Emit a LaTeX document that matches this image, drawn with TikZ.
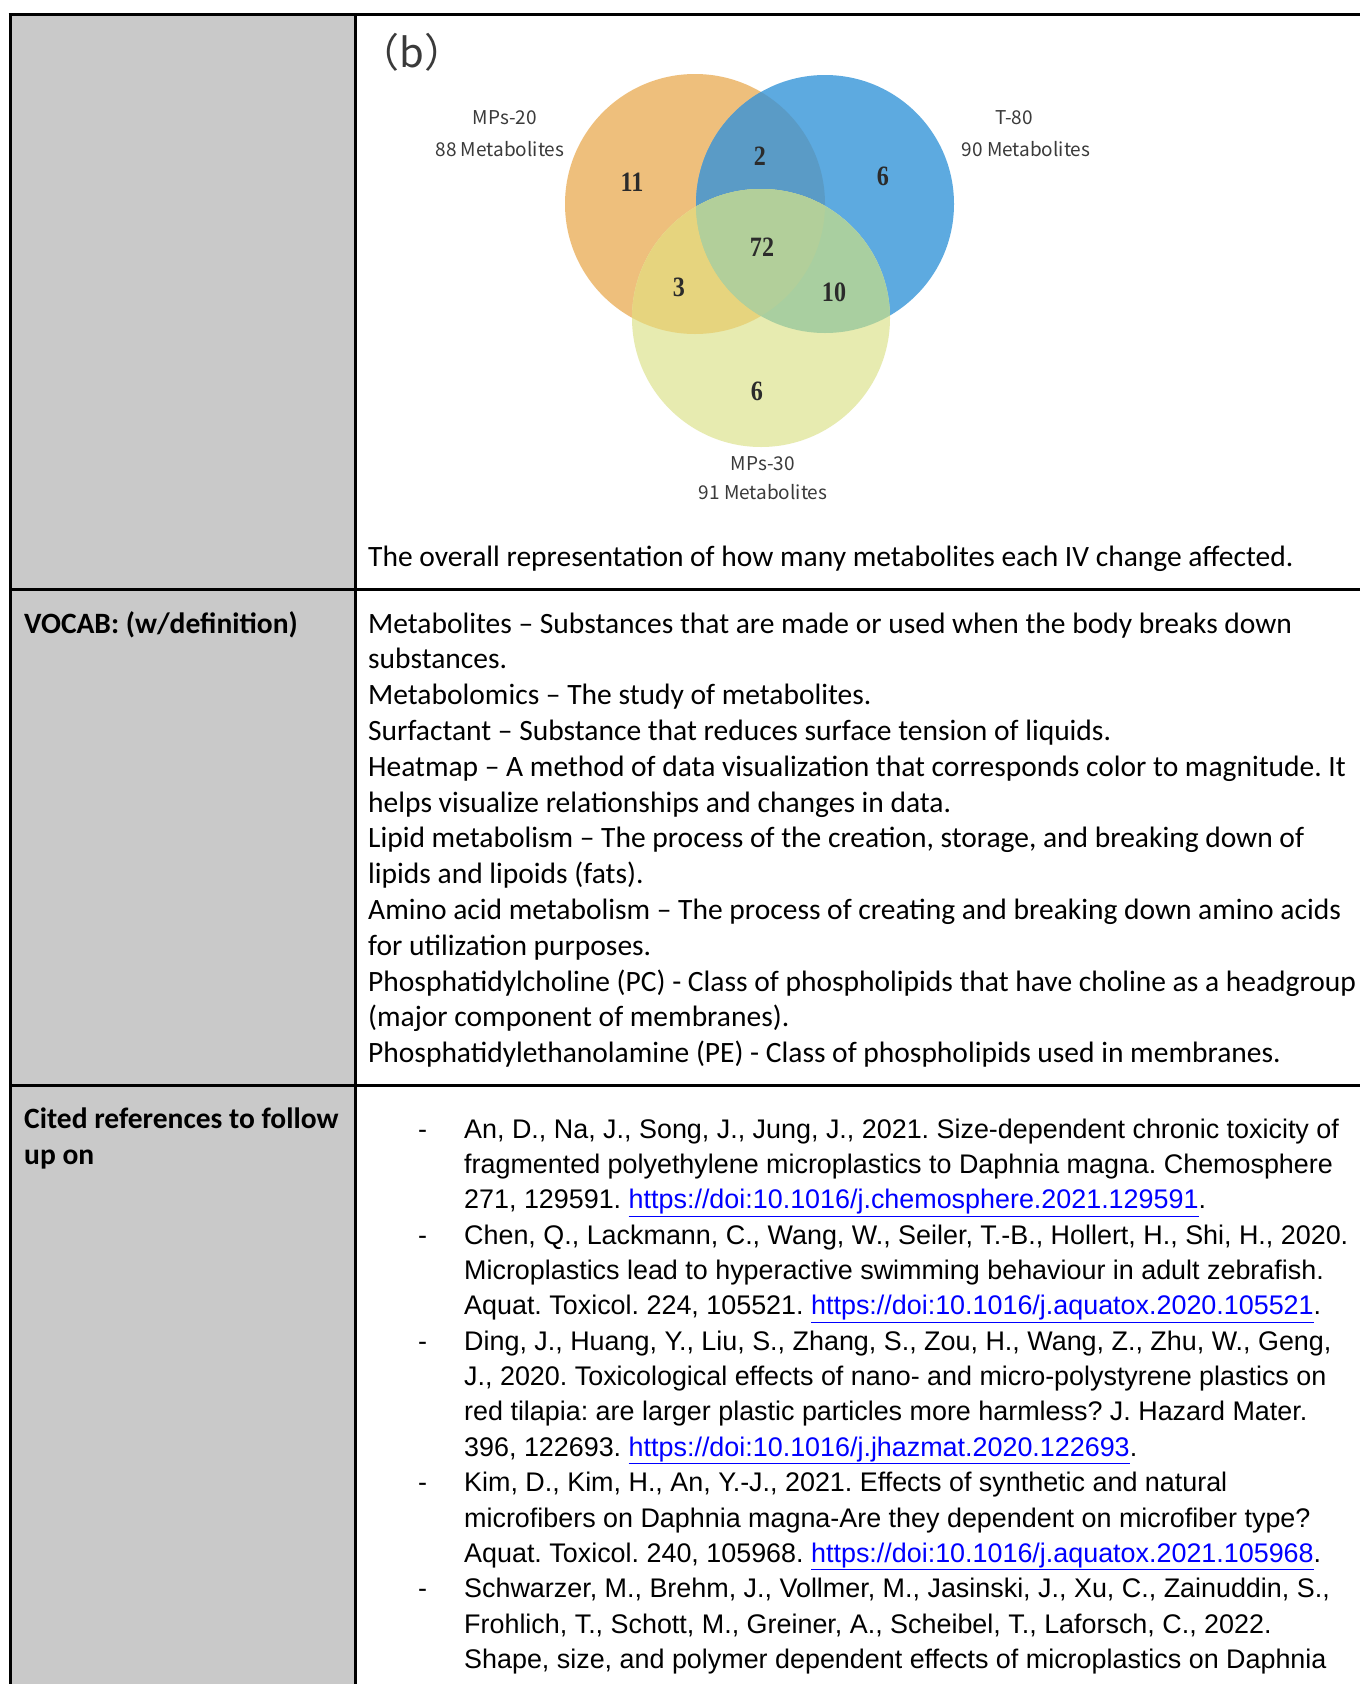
\documentclass[tikz,border=0pt]{standalone}
\usepackage{fontspec}
\setmainfont{Carlito}
\newfontfamily\arialf{Liberation Sans}
\newfontfamily\timesnarrow[FakeStretch=0.86]{Liberation Serif}
\newfontfamily\cjkf{Noto Sans CJK SC}
\definecolor{cellgray}{HTML}{C9C9C9}
\definecolor{vorange}{HTML}{EEBF7C}
\definecolor{vblue}{HTML}{5DAAE0}
\definecolor{vob}{HTML}{5A9BC6}
\definecolor{vyellow}{HTML}{E7EBB0}
\definecolor{voy}{HTML}{E6D47E}
\definecolor{vby}{HTML}{A9CFA0}
\definecolor{vall}{HTML}{B2CF9A}
\definecolor{vlabel}{HTML}{3A3A3A}
\definecolor{vnum}{HTML}{2B2B2B}
\definecolor{linkblue}{HTML}{0000FF}
\begin{document}
\frenchspacing
\begin{tikzpicture}[x=1pt,y=-1pt,
  rule/.style={line width=3pt,black},
  bodytxt/.style={anchor=base west,inner sep=0pt,font=\frenchspacing\fontsize{29.5}{35.9}\selectfont},
  headtxt/.style={bodytxt,font=\frenchspacing\fontsize{29.5}{35.9}\selectfont\bfseries},
  reftxt/.style={anchor=base west,inner sep=0pt,font=\arialf\frenchspacing\fontsize{26.9}{35.4}\selectfont},
  vlab/.style={inner sep=0pt,text=vlabel,font=\cjkf\fontsize{19}{23}\selectfont},
  vnumber/.style={inner sep=0pt,text=vnum,font=\timesnarrow\bfseries\fontsize{28}{30}\selectfont}]
\useasboundingbox (0,0) rectangle (1360,1684);
\fill[white] (0,0) rectangle (1360,1684);
% grey left column
\fill[cellgray] (10,14) rectangle (355.5,1684);

% Venn diagram
\coordinate (co) at (695,204);
\coordinate (cb) at (825,204);
\coordinate (cy) at (761,318);
\fill[vorange] (co) circle[radius=130pt];
\fill[vblue] (cb) circle[radius=129pt];
\begin{scope}
  \clip (co) circle[radius=130pt];
  \fill[vob] (cb) circle[radius=129pt];
\end{scope}
\fill[vyellow] (cy) circle[radius=129pt];
\begin{scope}
  \clip (cy) circle[radius=129pt];
  \fill[voy] (co) circle[radius=130pt];
  \fill[vby] (cb) circle[radius=129pt];
  \clip (co) circle[radius=130pt];
  \fill[vall] (cb) circle[radius=129pt];
\end{scope}

\node[inner sep=0pt,text=vlabel,font=\cjkf\fontsize{40}{44}\selectfont] (lb) at (412,52) {（b）};
\node[vlab] (l20a) at (505,118) {MPs-20};
\node[vlab] (l20b) at (500,149) {88 Metabolites};
\node[vlab] (l80a) at (1014,118) {T-80};
\node[vlab] (l80b) at (1026,149) {90 Metabolites};
\node[vlab] (l30a) at (763,464) {MPs-30};
\node[vlab] (l30b) at (763,492) {91 Metabolites};

\node[vnumber] (n11) at (632,182) {11};
\node[vnumber] (n2) at (760,156) {2};
\node[vnumber] (n6a) at (883,176) {6};
\node[vnumber] (n72) at (762,247) {72};
\node[vnumber] (n3) at (679,287) {3};
\node[vnumber] (n10) at (834,292) {10};
\node[vnumber] (n6b) at (757,391) {6};

\node[bodytxt] (cap) at (368,566) {The overall representation of how many metabolites each IV change affected.};

% left column headings
\node[headtxt] (h1) at (24,633) {VOCAB: (w/definition)};
\node[headtxt] (h2a) at (24,1128) {Cited references to follow};
\node[headtxt] (h2b) at (24,1164) {up on};

% vocabulary
\foreach \t [count=\i] in {
  {Metabolites – Substances that are made or used when the body breaks down},
  {substances.},
  {Metabolomics – The study of metabolites.},
  {Surfactant – Substance that reduces surface tension of liquids.},
  {Heatmap – A method of data visualization that corresponds color to magnitude. It},
  {helps visualize relationships and changes in data.},
  {Lipid metabolism – The process of the creation, storage, and breaking down of},
  {lipids and lipoids (fats).},
  {Amino acid metabolism – The process of creating and breaking down amino acids},
  {for utilization purposes.},
  {Phosphatidylcholine (PC) - Class of phospholipids that have choline as a headgroup},
  {(major component of membranes).},
  {Phosphatidylethanolamine (PE) - Class of phospholipids used in membranes.}}
  \node[bodytxt] (v\i) at (368,{633+(\i-1)*35.8}) {\t};

% references
\newcommand\lnk[1]{\textcolor{linkblue}{\underline{#1}}}
\foreach \t [count=\i] in {
  {An, D., Na, J., Song, J., Jung, J., 2021. Size-dependent chronic toxicity of},
  {fragmented polyethylene microplastics to Daphnia magna. Chemosphere},
  {271, 129591. \lnk{https://doi:10.1016/j.chemosphere.2021.129591}.},
  {Chen, Q., Lackmann, C., Wang, W., Seiler, T.-B., Hollert, H., Shi, H., 2020.},
  {Microplastics lead to hyperactive swimming behaviour in adult zebrafish.},
  {Aquat. Toxicol. 224, 105521. \lnk{https://doi:10.1016/j.aquatox.2020.105521}.},
  {Ding, J., Huang, Y., Liu, S., Zhang, S., Zou, H., Wang, Z., Zhu, W., Geng,},
  {J., 2020. Toxicological effects of nano- and micro-polystyrene plastics on},
  {red tilapia: are larger plastic particles more harmless? J. Hazard Mater.},
  {396, 122693. \lnk{https://doi:10.1016/j.jhazmat.2020.122693}.},
  {Kim, D., Kim, H., An, Y.-J., 2021. Effects of synthetic and natural},
  {microfibers on Daphnia magna-Are they dependent on microfiber type?},
  {Aquat. Toxicol. 240, 105968. \lnk{https://doi:10.1016/j.aquatox.2021.105968}.},
  {Schwarzer, M., Brehm, J., Vollmer, M., Jasinski, J., Xu, C., Zainuddin, S.,},
  {Frohlich, T., Schott, M., Greiner, A., Scheibel, T., Laforsch, C., 2022.},
  {Shape, size, and polymer dependent effects of microplastics on Daphnia}}
  \node[reftxt] (r\i) at (464,{1138+(\i-1)*35.37}) {\t};
\foreach \i in {1,4,7,11,14}
  \node[reftxt] (d\i) at (418,{1138+(\i-1)*35.37}) {-};

% table rules
\draw[rule] (8.5,14) -- (1360,14);
\draw[rule] (10,14) -- (10,1684);
\draw[rule] (355.5,14) -- (355.5,1684);
\draw[rule] (10,589) -- (1360,589);
\draw[rule] (10,1085) -- (1360,1085);
\end{tikzpicture}
\end{document}
